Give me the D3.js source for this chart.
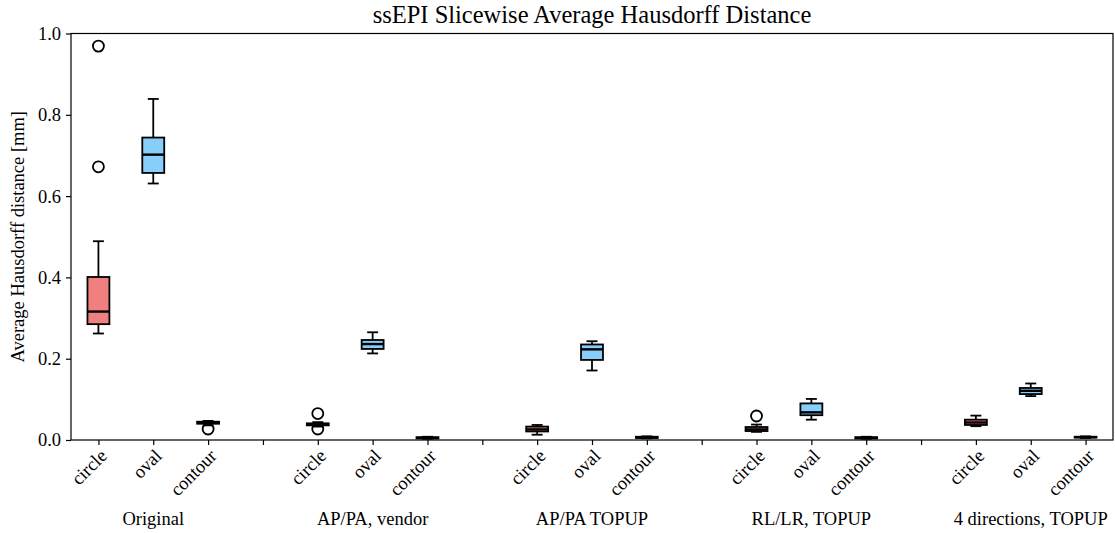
<!DOCTYPE html>
<html>
<head>
<meta charset="utf-8">
<script src="https://cdn.jsdelivr.net/npm/d3@7"></script>
<style>
  html, body { margin: 0; padding: 0; background: #fff; }
  svg text { font-family: "Liberation Serif", "Times New Roman", serif; fill: #000; }
</style>
</head>
<body>
<svg id="chart" width="1115" height="533"></svg>
<script>
// Acquisition / correction setups along the x axis
const groups = ["Original", "AP/PA, vendor", "AP/PA TOPUP", "RL/LR, TOPUP", "4 directions, TOPUP"];
// Segmentation shapes inside each setup
const methods = ["circle", "oval", "contour"];
const methodFill = ["#F08080", "#87CEFA", "#90EE90"];

// Five-number summaries [lower whisker, Q1, median, Q3, upper whisker], one row per setup
const circleStats = [
  [0.262, 0.285, 0.316, 0.401, 0.489],
  [0.033, 0.036, 0.039, 0.041, 0.044],
  [0.013, 0.021, 0.026, 0.033, 0.037],
  [0.020, 0.022, 0.026, 0.032, 0.038],
  [0.034, 0.037, 0.043, 0.050, 0.060]
];
const ovalStats = [
  [0.631, 0.657, 0.702, 0.744, 0.839],
  [0.213, 0.224, 0.236, 0.246, 0.265],
  [0.171, 0.197, 0.223, 0.235, 0.243],
  [0.050, 0.061, 0.068, 0.090, 0.101],
  [0.108, 0.113, 0.121, 0.128, 0.139]
];
const contourStats = [
  [0.036, 0.040, 0.043, 0.045, 0.047],
  [0.003, 0.004, 0.005, 0.007, 0.008],
  [0.004, 0.005, 0.006, 0.008, 0.009],
  [0.003, 0.004, 0.005, 0.007, 0.008],
  [0.005, 0.006, 0.007, 0.008, 0.009]
];
// Outlying slices per setup
const circleOutliers = [[0.969, 0.672], [0.065, 0.027], [], [0.059], []];
const ovalOutliers = [[], [], [], [], []];
const contourOutliers = [[0.027], [], [], [], []];

const yTicks = [0.0, 0.2, 0.4, 0.6, 0.8, 1.0];

const statsByMethod = [circleStats, ovalStats, contourStats];
const outliersByMethod = [circleOutliers, ovalOutliers, contourOutliers];

// Box positions: three boxes per setup, one empty slot between setups
const boxes = [];
groups.forEach((g, gi) => {
  methods.forEach((m, mi) => {
    const s = statsByMethod[mi][gi];
    boxes.push({
      pos: gi * 4 + mi + 1,
      group: g, method: m, fill: methodFill[mi],
      lo: s[0], q1: s[1], med: s[2], q3: s[3], hi: s[4],
      outliers: outliersByMethod[mi][gi]
    });
  });
});
const nPos = groups.length * 4 - 1;
const tickPositions = d3.range(1, nPos + 1);
const tickText = p => (p % 4 === 0 ? "" : methods[(p - 1) % 4]);

const margin = { left: 71, right: 2, top: 33.5, bottom: 93 };
const W = 1115, H = 533;
const FS = 18.5;
const LW = 1.8;
const svg = d3.select("#chart");

const x = d3.scaleLinear().domain([0.5, nPos + 0.5]).range([margin.left, W - margin.right]);
const y = d3.scaleLinear().domain([0, 1.0]).range([H - margin.bottom, margin.top]);

const boxW = x(1.4) - x(1);
const capW = boxW / 2;

// Boxes
const g = svg.append("g");
const bx = g.selectAll("g.box").data(boxes).join("g").attr("class", "box");

bx.append("line")
  .attr("x1", d => x(d.pos)).attr("x2", d => x(d.pos))
  .attr("y1", d => y(d.q3)).attr("y2", d => y(d.hi))
  .attr("stroke", "#000").attr("stroke-width", LW);
bx.append("line")
  .attr("x1", d => x(d.pos)).attr("x2", d => x(d.pos))
  .attr("y1", d => y(d.q1)).attr("y2", d => y(d.lo))
  .attr("stroke", "#000").attr("stroke-width", LW);
bx.append("line")
  .attr("x1", d => x(d.pos) - capW / 2).attr("x2", d => x(d.pos) + capW / 2)
  .attr("y1", d => y(d.hi)).attr("y2", d => y(d.hi))
  .attr("stroke", "#000").attr("stroke-width", LW);
bx.append("line")
  .attr("x1", d => x(d.pos) - capW / 2).attr("x2", d => x(d.pos) + capW / 2)
  .attr("y1", d => y(d.lo)).attr("y2", d => y(d.lo))
  .attr("stroke", "#000").attr("stroke-width", LW);
bx.append("rect")
  .attr("x", d => x(d.pos) - boxW / 2)
  .attr("y", d => y(d.q3))
  .attr("width", boxW)
  .attr("height", d => y(d.q1) - y(d.q3))
  .attr("fill", d => d.fill)
  .attr("stroke", "#000").attr("stroke-width", LW);
bx.append("line")
  .attr("x1", d => x(d.pos) - boxW / 2).attr("x2", d => x(d.pos) + boxW / 2)
  .attr("y1", d => y(d.med)).attr("y2", d => y(d.med))
  .attr("stroke", "#000").attr("stroke-width", 2.4);
bx.selectAll("circle")
  .data(d => d.outliers.map(v => ({ pos: d.pos, v })))
  .join("circle")
  .attr("cx", d => x(d.pos)).attr("cy", d => y(d.v))
  .attr("r", 5.5)
  .attr("fill", "none").attr("stroke", "#000").attr("stroke-width", 1.8);

// Axes
const xAxis = d3.axisBottom(x).tickValues(tickPositions).tickFormat(tickText).tickSize(5).tickSizeOuter(0);
const xg = svg.append("g").attr("transform", `translate(0,${H - margin.bottom})`).call(xAxis);
xg.select(".domain").remove();
xg.selectAll(".tick line").attr("stroke", "#000").attr("stroke-width", 1.2);
xg.selectAll(".tick text")
  .attr("font-size", FS)
  .attr("font-family", '"Liberation Serif", serif')
  .attr("text-anchor", "end")
  .attr("dominant-baseline", "hanging")
  .attr("y", 0).attr("dy", 0)
  .attr("transform", "translate(0,8) rotate(-45)");

const yAxis = d3.axisLeft(y).tickValues(yTicks).tickFormat(d3.format(".1f")).tickSize(5).tickSizeOuter(0);
const yg = svg.append("g").attr("transform", `translate(${margin.left},0)`).call(yAxis);
yg.select(".domain").remove();
yg.selectAll(".tick line").attr("stroke", "#000").attr("stroke-width", 1.2);
yg.selectAll(".tick text")
  .attr("font-size", FS)
  .attr("font-family", '"Liberation Serif", serif')
  .attr("x", -10);

// Frame
svg.append("rect")
  .attr("x", margin.left).attr("y", margin.top)
  .attr("width", W - margin.right - margin.left)
  .attr("height", H - margin.bottom - margin.top)
  .attr("fill", "none").attr("stroke", "#000").attr("stroke-width", 1.2);

// Setup labels under each triple
svg.selectAll("text.group").data(groups).join("text")
  .attr("class", "group")
  .attr("x", (d, i) => x(i * 4 + 2))
  .attr("y", 525)
  .attr("text-anchor", "middle")
  .attr("font-size", FS)
  .text(d => d);

// Title and axis label
svg.append("text")
  .attr("x", (margin.left + W - margin.right) / 2)
  .attr("y", 23)
  .attr("text-anchor", "middle")
  .attr("font-size", 24.5)
  .text("ssEPI Slicewise Average Hausdorff Distance");

svg.append("text")
  .attr("transform", `translate(24,${(margin.top + H - margin.bottom) / 2}) rotate(-90)`)
  .attr("text-anchor", "middle")
  .attr("font-size", FS)
  .text("Average Hausdorff distance [mm]");
</script>
</body>
</html>
